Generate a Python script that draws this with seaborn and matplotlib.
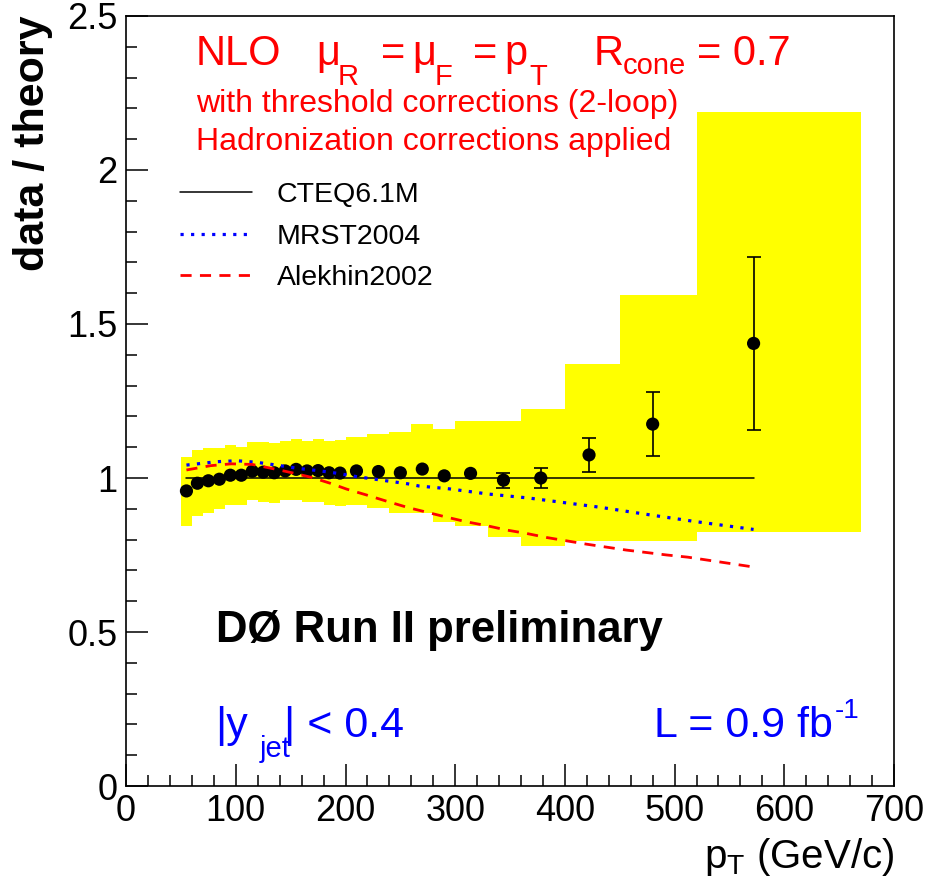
import numpy as np
import pandas as pd
import matplotlib
matplotlib.use("Agg")
import matplotlib.pyplot as plt
from matplotlib.ticker import MultipleLocator
import seaborn as sns

# ---- measured data / theory ratio (inclusive jets, |y| < 0.4) ----
pt = [55, 65, 75, 85, 95, 105, 115, 125, 135, 145, 155, 165, 175, 185, 195,
      210, 230, 250, 270, 290, 314, 344, 378, 422, 480, 572]
ratio = [0.958, 0.983, 0.991, 0.996, 1.009, 1.009, 1.022, 1.019, 1.017, 1.023,
         1.028, 1.023, 1.024, 1.017, 1.016, 1.023, 1.021, 1.017, 1.029, 1.007,
         1.015, 0.993, 1.000, 1.075, 1.175, 1.437]
stat_err = [0.003, 0.003, 0.003, 0.003, 0.003, 0.003, 0.004, 0.004, 0.004, 0.004,
            0.004, 0.005, 0.005, 0.005, 0.006, 0.006, 0.007, 0.008, 0.009, 0.011,
            0.014, 0.024, 0.032, 0.054, 0.103, 0.281]

# ---- systematic uncertainty band (per pT bin) ----
bin_edges = [50, 60, 70, 80, 90, 100, 110, 120, 130, 140, 150, 160, 170, 180, 190,
             200, 220, 240, 260, 280, 300, 330, 360, 400, 450, 520, 670]
sys_upper = [1.069, 1.091, 1.096, 1.098, 1.107, 1.102, 1.118, 1.116, 1.113, 1.120,
             1.126, 1.121, 1.126, 1.120, 1.123, 1.134, 1.142, 1.150, 1.174, 1.159,
             1.186, 1.186, 1.224, 1.370, 1.594, 2.189]
sys_lower = [0.845, 0.877, 0.885, 0.899, 0.912, 0.912, 0.929, 0.923, 0.920, 0.929,
             0.929, 0.923, 0.923, 0.912, 0.909, 0.912, 0.902, 0.887, 0.887, 0.856,
             0.844, 0.807, 0.779, 0.795, 0.796, 0.826]

# ---- PDF predictions relative to CTEQ6.1M ----
cteq_pt = [55, 572]
cteq = [1.0, 1.0]
mrst_pt = [55, 83, 101, 119, 137, 157, 175, 193, 211, 221, 239, 257, 267, 294,
           330, 367, 432, 478, 520, 572]
mrst = [1.042, 1.053, 1.056, 1.051, 1.042, 1.031, 1.024, 1.015, 1.004, 0.999,
        0.990, 0.981, 0.974, 0.965, 0.948, 0.935, 0.905, 0.880, 0.858, 0.833]
alek_pt = [55, 77, 96, 115, 133, 150, 169, 186, 201, 219, 239, 257, 274, 292,
           310, 329, 347, 365, 383, 420, 456, 493, 512, 572]
alek = [1.026, 1.040, 1.046, 1.044, 1.031, 1.018, 1.002, 0.983, 0.964, 0.945,
        0.923, 0.904, 0.889, 0.873, 0.858, 0.845, 0.831, 0.820, 0.807, 0.785,
        0.766, 0.750, 0.743, 0.711]

RED = "#ff0000"
BLUE = "#0000ff"
YELLOW = "#ffff00"

sns.set_theme(style="ticks")
plt.rcParams["font.family"] = ["Liberation Sans", "DejaVu Sans"]
plt.rcParams["mathtext.fontset"] = "custom"
plt.rcParams["mathtext.rm"] = "Liberation Sans"
plt.rcParams["mathtext.it"] = "Liberation Sans"
plt.rcParams["mathtext.bf"] = "Liberation Sans:bold"
plt.rcParams["mathtext.default"] = "regular"
for key in ["text.color", "axes.labelcolor", "xtick.color", "ytick.color",
            "xtick.labelcolor", "ytick.labelcolor", "axes.edgecolor"]:
    plt.rcParams[key] = "black"

W, H = 932, 888
fig = plt.figure(figsize=(W / 100, H / 100), dpi=100)
ax = fig.add_axes([126.1 / W, 102 / H, 767.9 / W, 770 / H])

# systematic band as a step-filled area
edges = np.array(bin_edges, dtype=float)
up = np.append(sys_upper, sys_upper[-1])
lo = np.append(sys_lower, sys_lower[-1])
ax.fill_between(edges, lo, up, step="post", color=YELLOW, linewidth=0, zorder=1)

# data points with statistical errors (caps only where the bar clears the marker)
df = pd.DataFrame({"pt": pt, "ratio": ratio, "err": stat_err})
large = df["err"] > 0.018
for sel, cap in ((~large, 0), (large, 5)):
    part = df[sel]
    ax.errorbar(part["pt"], part["ratio"], yerr=part["err"], fmt="none",
                ecolor="black", elinewidth=1.2, capsize=cap, capthick=1.2, zorder=3)
sns.scatterplot(data=df, x="pt", y="ratio", color="black", s=90, marker="o",
                edgecolor="none", ax=ax, zorder=3, legend=False)

# theory curves
sns.lineplot(x=cteq_pt, y=cteq, color="black", linewidth=1.1, ax=ax,
             label="CTEQ6.1M", zorder=4)
sns.lineplot(x=mrst_pt, y=mrst, color=BLUE, linewidth=2.3, ax=ax,
             label="MRST2004", zorder=4, sort=False)
sns.lineplot(x=alek_pt, y=alek, color=RED, linewidth=2.0, ax=ax,
             label="Alekhin2002", zorder=4, sort=False)
lines = ax.get_lines()
lines[-2].set_dashes((1.0, 2.3))
lines[-2].set_dash_capstyle("butt")
lines[-1].set_dashes((4.0, 3.0))
lines[-1].set_dash_capstyle("butt")

ax.set_xlim(0, 700)
ax.set_ylim(0, 2.5)

# ROOT-like frame and ticks
for sp in ax.spines.values():
    sp.set_visible(True)
    sp.set_linewidth(1.2)
    sp.set_color("black")
ax.xaxis.set_major_locator(MultipleLocator(100))
ax.xaxis.set_minor_locator(MultipleLocator(20))
ax.yaxis.set_major_locator(MultipleLocator(0.5))
ax.yaxis.set_minor_locator(MultipleLocator(0.1))
ax.tick_params(which="both", direction="in", top=False, right=False, color="black")
ax.tick_params(which="major", length=16, width=1.1, labelsize=26, pad=6)
ax.tick_params(which="minor", length=8, width=1.1)
ax.set_xticks(np.arange(0, 701, 100))
ax.set_xticklabels([str(v) for v in range(0, 701, 100)])
ax.set_yticks([0, 0.5, 1, 1.5, 2, 2.5])
ax.set_yticklabels(["0", "0.5", "1", "1.5", "2", "2.5"])
ax.grid(False)

ax.set_xlabel(r"$p_{T}$ (GeV/c)", fontsize=29, loc="right")
ax.xaxis.set_label_coords(1.0, -0.065)
ax.set_ylabel("data / theory", fontsize=31, fontweight="bold", loc="top")
ax.yaxis.set_label_coords(-0.095, 1.0)

leg = ax.legend(loc="upper left", bbox_to_anchor=(0.07, 0.784), frameon=False,
                fontsize=20.5, handlelength=2.55, handletextpad=0.85,
                labelspacing=0.54, borderpad=0, borderaxespad=0)


def put(s, x_px, y_px, size, color, **kw):
    """Place a text piece with its baseline at a pixel position of the figure."""
    fig.text(x_px / W, 1 - y_px / H, s, fontsize=size, color=color,
             va="baseline", **kw)


# NLO header with ROOT-style lowered subscripts
BIG, SUB = 30, 21
put("NLO", 196, 65, BIG, RED)
put("\u03bc", 316, 65, BIG, RED)
put("R", 338, 85, SUB, RED)
put("=", 381, 65, BIG, RED)
put("\u03bc", 412, 65, BIG, RED)
put("F", 435, 85, SUB, RED)
put("=", 473, 65, BIG, RED)
put("p", 504, 65, BIG, RED)
put("T", 529, 85, SUB, RED)
put("R", 594, 65, BIG, RED)
put("cone", 623, 74, SUB, RED)
put("= 0.7", 697, 65, BIG, RED)
put("with threshold corrections (2-loop)", 196, 111.7, 23, RED)
put("Hadronization corrections applied", 196, 150, 23, RED)

put("DØ Run II preliminary", 215.6, 641.7, 31.5, "black", fontweight="bold")

put("|y", 215.6, 736.7, 31, BLUE)
put("jet", 259.5, 756.7, 21, BLUE)
put("| < 0.4", 284, 736.7, 31, BLUE)
put("L = 0.9 fb", 832.7, 736.7, 31, BLUE, ha="right")
put("-1", 835, 718, 20, BLUE)

fig.savefig("out.png", dpi=100, facecolor="white")
